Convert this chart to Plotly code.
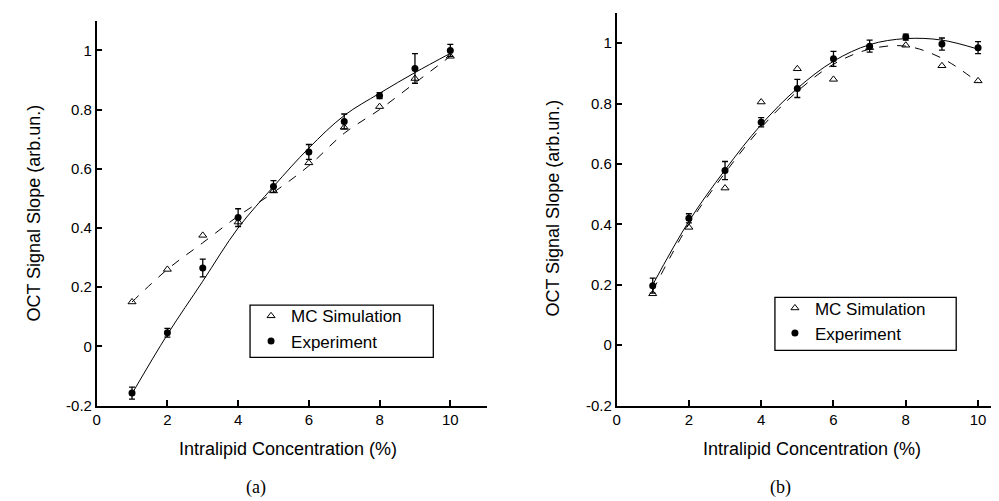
import plotly.graph_objects as go

# intralipid concentration (%)
conc = [1, 2, 3, 4, 5, 6, 7, 8, 9, 10]

# panel (a)
a_mc = [0.15, 0.26, 0.375, 0.42, 0.525, 0.62, 0.74, 0.81, 0.905, 0.98]
a_exp = [-0.158, 0.046, 0.265, 0.435, 0.54, 0.657, 0.76, 0.847, 0.939, 1.0]
a_exp_err = [0.02, 0.015, 0.03, 0.03, 0.02, 0.025, 0.025, 0.01, 0.05, 0.02]
a_mc_fit = [0.15, 0.26, 0.35, 0.44, 0.52, 0.61, 0.72, 0.80, 0.89, 0.98]
a_exp_fit = [-0.16, 0.04, 0.22, 0.40, 0.54, 0.67, 0.78, 0.855, 0.925, 0.99]

# panel (b)
b_mc = [0.17, 0.39, 0.52, 0.805, 0.915, 0.88, 0.985, 0.993, 0.925, 0.875]
b_exp = [0.197, 0.42, 0.578, 0.738, 0.85, 0.948, 0.99, 1.02, 0.997, 0.985]
b_exp_err = [0.025, 0.015, 0.03, 0.015, 0.03, 0.025, 0.02, 0.01, 0.02, 0.02]
b_mc_fit = [0.18, 0.40, 0.57, 0.72, 0.84, 0.93, 0.98, 0.99, 0.95, 0.87]
b_exp_fit = [0.20, 0.41, 0.58, 0.73, 0.85, 0.94, 0.995, 1.015, 1.01, 0.98]

x_ticks = [0, 2, 4, 6, 8, 10]
y_ticks = [-0.2, 0, 0.2, 0.4, 0.6, 0.8, 1]
y_ticktext = ["-0.2", "0", "0.2", "0.4", "0.6", "0.8", "1"]

W, H = 999, 501
FONT = "Liberation Sans"


def panel_traces(xa, ya, leg, mc, exp, err, mc_fit, exp_fit):
    return [
        go.Scatter(x=conc, y=mc_fit, mode="lines", xaxis=xa, yaxis=ya,
                   line=dict(color="black", width=1, dash="dash", shape="spline"),
                   showlegend=False, hoverinfo="skip"),
        go.Scatter(x=conc, y=exp_fit, mode="lines", xaxis=xa, yaxis=ya,
                   line=dict(color="black", width=1, shape="spline"),
                   showlegend=False, hoverinfo="skip"),
        go.Scatter(x=conc, y=mc, mode="markers", name="MC Simulation",
                   xaxis=xa, yaxis=ya, legend=leg,
                   marker=dict(symbol="triangle-up-open", size=7, color="black",
                               line=dict(width=1, color="black"))),
        go.Scatter(x=conc, y=exp, mode="markers", name="Experiment",
                   xaxis=xa, yaxis=ya, legend=leg,
                   error_y=dict(type="data", array=err, visible=True,
                                color="black", thickness=1.3, width=3),
                   marker=dict(symbol="circle", size=7, color="black")),
    ]


data = panel_traces("x", "y", "legend", a_mc, a_exp, a_exp_err, a_mc_fit, a_exp_fit)
data += panel_traces("x2", "y2", "legend2", b_mc, b_exp, b_exp_err, b_mc_fit, b_exp_fit)

fig = go.Figure(data=data)


def xaxis_style(domain, rng, anchor):
    return dict(domain=domain, range=rng, anchor=anchor,
                showline=True, linecolor="black", linewidth=1.5,
                ticks="inside", ticklen=6, tickcolor="black", tickwidth=1.5,
                tickvals=x_ticks, showgrid=False, zeroline=False,
                tickfont=dict(family=FONT, size=15, color="black"))


def yaxis_style(domain, anchor):
    return dict(domain=domain, range=[-0.2, 1.1], anchor=anchor,
                showline=True, linecolor="black", linewidth=1.5,
                ticks="inside", ticklen=6, tickcolor="black", tickwidth=1.5,
                tickvals=y_ticks, ticktext=y_ticktext,
                showgrid=False, zeroline=False,
                tickfont=dict(family=FONT, size=15, color="black"))


legend_style = dict(bgcolor="rgba(0,0,0,0)", borderwidth=0,
                    font=dict(family=FONT, size=17, color="black"),
                    xanchor="left", yanchor="top", tracegroupgap=0,
                    itemwidth=30)

fig.update_layout(
    width=W, height=H,
    margin=dict(l=0, r=0, t=0, b=0),
    paper_bgcolor="white", plot_bgcolor="white",
    xaxis=xaxis_style([85 / W, 477 / W], [0, 11.04], "y"),
    yaxis=yaxis_style([1 - 404 / H, 1 - 13 / H], "x"),
    xaxis2=xaxis_style([607 / W, 1.0], [0, 10.8], "y2"),
    yaxis2=yaxis_style([1 - 404 / H, 1 - 5 / H], "x2"),
    legend=dict(legend_style, x=240 / W, y=1 - 295 / H),
    legend2=dict(legend_style, x=766 / W, y=1 - 287 / H),
)

# legend frames
for x0, x1, y0, y1 in [(239, 423, 302, 355), (766, 948, 294, 348)]:
    fig.add_shape(type="rect", xref="paper", yref="paper",
                  x0=x0 / W, x1=x1 / W, y0=1 - y1 / H, y1=1 - y0 / H,
                  line=dict(color="black", width=1.3), fillcolor="rgba(0,0,0,0)")

annots = [
    ("Intralipid Concentration (%)", 277, 448, 0, FONT, 18),
    ("Intralipid Concentration (%)", 803, 448, 0, FONT, 18),
    ("OCT Signal Slope (arb.un.)", 22, 208, -90, FONT, 18),
    ("OCT Signal Slope (arb.un.)", 543, 203, -90, FONT, 18),
    ("(a)", 245, 487, 0, "Liberation Serif", 18),
    ("(b)", 772, 487, 0, "Liberation Serif", 18),
]
for text, px, py, ang, fam, sz in annots:
    fig.add_annotation(text=text, x=px / W, y=1 - py / H, xref="paper", yref="paper",
                       showarrow=False, textangle=ang, xanchor="center", yanchor="middle",
                       font=dict(family=fam, size=sz, color="black"))

fig.write_html("out.html")
